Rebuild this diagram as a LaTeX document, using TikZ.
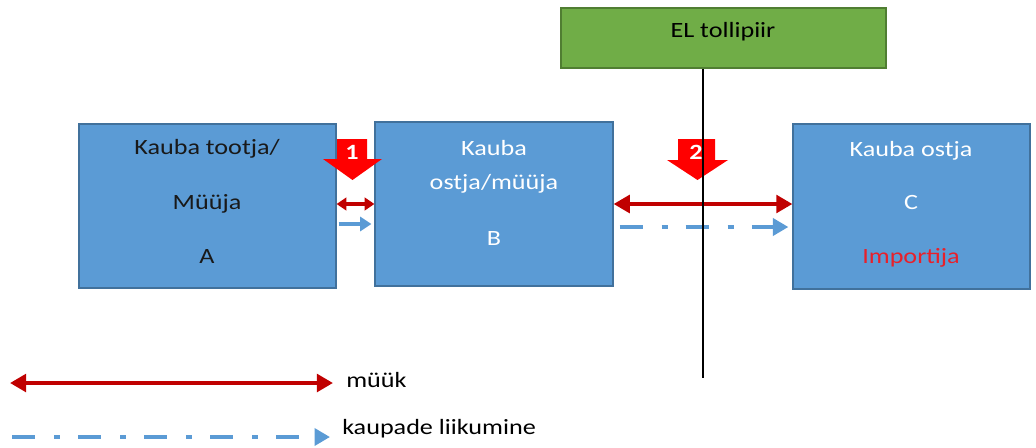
\documentclass[tikz,border=0pt]{standalone}
\usepackage{fontspec}
\setmainfont{Carlito}[FakeStretch=1.2]
\usetikzlibrary{arrows.meta,calc}
\definecolor{boxblue}{HTML}{5B9BD5}
\definecolor{boxline}{HTML}{41719C}
\definecolor{bordergreen}{HTML}{70AD47}
\definecolor{greenline}{HTML}{507E32}
\definecolor{salered}{HTML}{C00000}
\definecolor{flagred}{HTML}{FF0000}
\definecolor{importred}{HTML}{E8202A}
\begin{document}
\begin{tikzpicture}[x=0.025cm, y=-0.025cm,
  party/.style={draw=boxline, fill=boxblue, line width=0.8pt, inner sep=0pt},
  line/.style={anchor=base, inner sep=0pt, font=\fontsize{15.5}{18}\selectfont},
  sale/.style={draw=salered, line width=2.8pt, {Triangle[width=12.5pt,length=11.5pt]}-{Triangle[width=12.5pt,length=11.5pt]}},
  goods/.style={draw=boxblue, line width=2.8pt, dash pattern=on 16.4pt off 13.5pt on 4.3pt off 12.8pt, -{Triangle[width=12pt,length=11pt]}},
  stepno/.style={text=white, font=\bfseries\fontsize{15.5}{18}\selectfont, anchor=base, inner sep=0pt}]
    \useasboundingbox (0,0) rectangle (1036,447);
    % parties and the border
    \node[party, minimum width=6.425cm, minimum height=4.1cm] (sellerA) at (207.5,206) {};
    \node[party, minimum width=5.95cm, minimum height=4.1cm] (buyerB) at (494,204) {};
    \node[party, minimum width=5.925cm, minimum height=4.125cm] (importerC) at (911.5,206.5) {};
    \node[draw=greenline, fill=bordergreen, line width=0.8pt, minimum width=8.125cm, minimum height=1.5cm] (border) at (723.5,38) {};
    \node[line] (elText) at (723,37) {EL tollipiir};
    \node[line, text=black!90] (a1) at (207,154) {Kauba tootja/};
    \node[line, text=black!90] (a2) at (207,209) {Müüja};
    \node[line, text=black!90] (a3) at (207,263) {A};
    \node[line, text=white] (b1) at (494,155) {Kauba};
    \node[line, text=white] (b2) at (494,189) {ostja/müüja};
    \node[line, text=white] (b3) at (494,245) {B};
    \node[line, text=white] (c1) at (911,156) {Kauba ostja};
    \node[line, text=white] (c2) at (911,209) {C};
    \node[line, text=importred] (c3) at (911,263) {Importija};
    % sales and goods flow
    \draw[sale, {Triangle[width=9pt,length=7pt]}-{Triangle[width=9pt,length=7pt]}] (sellerA.east |- buyerB.west) -- (buyerB.west);
    \draw[draw=boxblue, line width=2.8pt, -{Triangle[width=10pt,length=8pt]}] ($(sellerA.east |- buyerB.west)+(2,20)$) -- ($(buyerB.west)+(-3,20)$);
    \draw[sale] (buyerB.east) -- (importerC.west |- buyerB.east);
    \draw[goods] ($(buyerB.east)+(6,23)$) -- ($(importerC.west |- buyerB.east)+(-4,23)$);
    % steps
    \fill[flagred] (337,139) -- (367,139) -- (367,159) -- (382,159) -- (352.5,180) -- (323,159) -- (337,159) -- cycle;
    \fill[flagred] (678,139) -- (715,139) -- (715,160) -- (728,160) -- (697.5,180) -- (667,160) -- (678,160) -- cycle;
    \node[stepno] (n1) at (352,159) {1};
    \node[stepno] (n2) at (696,159) {2};
    % border line
    \coordinate (lineEnd) at (703,378);
    \draw[line width=2pt] (border.south -| lineEnd) -- (lineEnd);
    % legend
    \coordinate (saleL) at (10,383);
    \coordinate (saleR) at (333,383);
    \coordinate (goodsL) at (12,437);
    \coordinate (goodsR) at (330,437);
    \draw[sale] (saleL) -- (saleR);
    \draw[goods] (goodsL) -- (goodsR);
    \node[line, anchor=base west] (muuk) at (346,387) {müük};
    \node[line, anchor=base west] (liik) at (342,434) {kaupade liikumine};
\end{tikzpicture}
\end{document}
